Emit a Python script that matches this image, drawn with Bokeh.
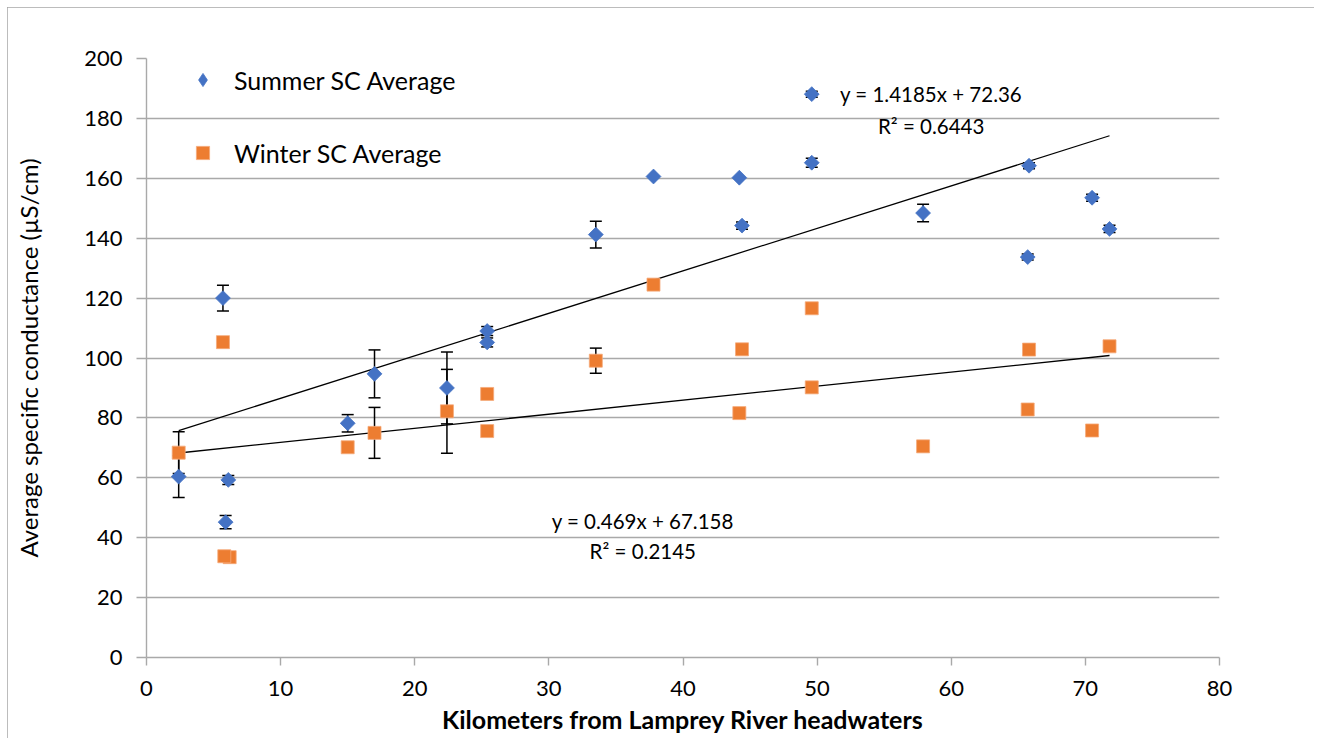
import numpy as np
from bokeh.plotting import figure
from bokeh.models import (ColumnDataSource, Whisker, TeeHead, Legend, LegendItem,
                          FixedTicker)
from bokeh.core.properties import value
from bokeh.embed import file_html
from bokeh.resources import INLINE

# ---- data ----
km = [2.4, 5.7, 6.1, 5.9, 15.0, 17.0, 22.4, 25.4, 25.4, 33.5,
      37.8, 44.2, 44.4, 49.6, 49.6, 57.9, 65.8, 65.7, 70.5, 71.8]
summer_sc = [60.4, 120.0, 59.3, 45.2, 78.2, 94.7, 90.0, 109.0, 105.2, 141.2,
             160.6, 160.2, 144.2, 188.1, 165.2, 148.4, 164.2, 133.7, 153.5, 143.1]
summer_err = [7.0, 4.3, 1.5, 2.2, 2.9, 8.0, 12.0, 1.5, 1.5, 4.5,
              0.0, 0.0, 1.2, 1.0, 1.5, 2.9, 1.0, 1.0, 1.2, 1.2]
km_w = [2.4, 5.7, 6.2, 5.8, 15.0, 17.0, 22.4, 25.4, 25.4, 33.5,
        37.8, 44.2, 44.4, 49.6, 49.6, 57.9, 65.8, 65.7, 70.5, 71.8]
winter_sc = [68.4, 105.3, 33.5, 33.8, 70.2, 75.0, 82.2, 88.0, 75.6, 99.1,
             124.5, 81.6, 102.9, 116.6, 90.2, 70.5, 102.8, 82.8, 75.8, 103.9]
winter_err = [7.0, 0.0, 0.0, 0.0, 0.0, 8.5, 14.0, 0.0, 0.0, 4.2,
              0.0, 0.0, 0.0, 0.0, 0.0, 0.0, 0.0, 0.0, 0.0, 0.0]

summer_fit = (1.4185, 72.36)
winter_fit = (0.469, 67.158)
summer_eq = ["y = 1.4185x + 72.36", "R² = 0.6443"]
winter_eq = ["y = 0.469x + 67.158", "R² = 0.2145"]
eq_pos_summer = ([58.5, 58.5], [188.3, 177.3])
eq_pos_winter = ([37.0, 37.0], [45.7, 35.4])

x_ticks = list(range(0, 81, 10))
y_ticks = list(range(0, 201, 20))

BLUE = "#4472C4"
ORANGE = "#ED7D31"
GRID = "#a9a9a9"
FONT = "Lato"

p = figure(width=1307, height=731, output_backend="svg", toolbar_location=None,
           x_range=(0, 80), y_range=(0, 200),
           min_border_left=139, min_border_right=95, min_border_top=51, min_border_bottom=81)
p.styles = {"margin": "7px 0px 0px 7px", "outline": "1.5px solid #a6a6a6",
            "outline-offset": "-1px"}
p.outline_line_color = None
p.background_fill_color = "white"
p.border_fill_color = "white"

p.xaxis.ticker = FixedTicker(ticks=x_ticks)
p.yaxis.ticker = FixedTicker(ticks=y_ticks)
p.xgrid.grid_line_color = None
p.ygrid.grid_line_color = GRID
p.ygrid.grid_line_width = 1.4

for ax in (p.xaxis[0], p.yaxis[0]):
    ax.axis_line_color = GRID
    ax.axis_line_width = 1.4
    ax.major_tick_line_color = GRID
    ax.major_tick_line_width = 1.4
    ax.major_tick_in = 0
    ax.minor_tick_line_color = None
    ax.major_label_text_font = FONT
    ax.major_label_text_font_size = "22px"
    ax.major_label_text_color = "black"
    ax.axis_label_text_font = FONT
    ax.axis_label_text_color = "black"

p.xaxis.major_tick_out = 8
p.yaxis.major_tick_out = 10
p.xaxis.major_label_standoff = 15
p.yaxis.major_label_standoff = 14
p.xaxis.axis_label = "Kilometers from Lamprey River headwaters"
p.xaxis.axis_label_text_font_style = "bold"
p.xaxis.axis_label_text_font_size = "25px"
p.xaxis.axis_label_standoff = 5
p.yaxis.axis_label = "Average specific conductance (µS/cm)"
p.yaxis.axis_label_text_font_style = "normal"
p.yaxis.axis_label_text_font_size = "24px"
p.yaxis.axis_label_standoff = 38

# trend lines from the fitted equations
for (m, b), xs in ((summer_fit, km), (winter_fit, km_w)):
    x0, x1 = min(xs), max(xs)
    p.line([x0, x1], [m * x0 + b, m * x1 + b], line_color="black", line_width=1.3)

# error bars
def add_err(xs, ys, errs):
    sel = [i for i, e in enumerate(errs) if e > 0]
    src = ColumnDataSource(dict(
        x=[xs[i] for i in sel],
        lo=[ys[i] - errs[i] for i in sel],
        hi=[ys[i] + errs[i] for i in sel]))
    w = Whisker(base="x", lower="lo", upper="hi", source=src, dimension="height",
                line_color="black", line_width=1.5,
                upper_head=TeeHead(size=12, line_color="black", line_width=1.5),
                lower_head=TeeHead(size=12, line_color="black", line_width=1.5))
    p.add_layout(w)

add_err(km, summer_sc, summer_err)
add_err(km_w, winter_sc, winter_err)

s_src = ColumnDataSource(dict(x=km, y=summer_sc))
w_src = ColumnDataSource(dict(x=km_w, y=winter_sc))
r_w = p.scatter("x", "y", source=w_src, marker="square", size=13,
                fill_color=ORANGE, line_color="#f5a97a", line_width=0.8)
# diamond key drawn under the summer markers (legend glyphs are never rotated)
r_s_key = p.scatter("x", "y", source=s_src, marker="diamond", size=9,
                    fill_color=BLUE, line_color=BLUE, line_width=0.8)
r_s = p.scatter("x", "y", source=s_src, marker="square", angle=np.pi / 4, size=10.5,
                fill_color=BLUE, line_color=BLUE, line_width=0.8)

# equation labels
for (xs, ys), texts in ((eq_pos_summer, summer_eq), (eq_pos_winter, winter_eq)):
    p.text(x=xs, y=ys, text=texts, text_font=value(FONT), text_font_size="20.5px",
           text_color="black", text_align="center", text_baseline="middle")

legend = Legend(items=[LegendItem(label="Summer SC Average", renderers=[r_s_key]),
                       LegendItem(label="Winter SC Average", renderers=[r_w])],
                location=(40, 488), orientation="vertical",
                border_line_color=None, background_fill_alpha=0,
                padding=0, margin=0, spacing=40,
                glyph_width=33, glyph_height=33, label_height=25,
                label_standoff=15,
                label_text_font=FONT, label_text_font_size="25px",
                label_text_color="black")
p.add_layout(legend)

open("out.html", "w").write(file_html(p, INLINE))
